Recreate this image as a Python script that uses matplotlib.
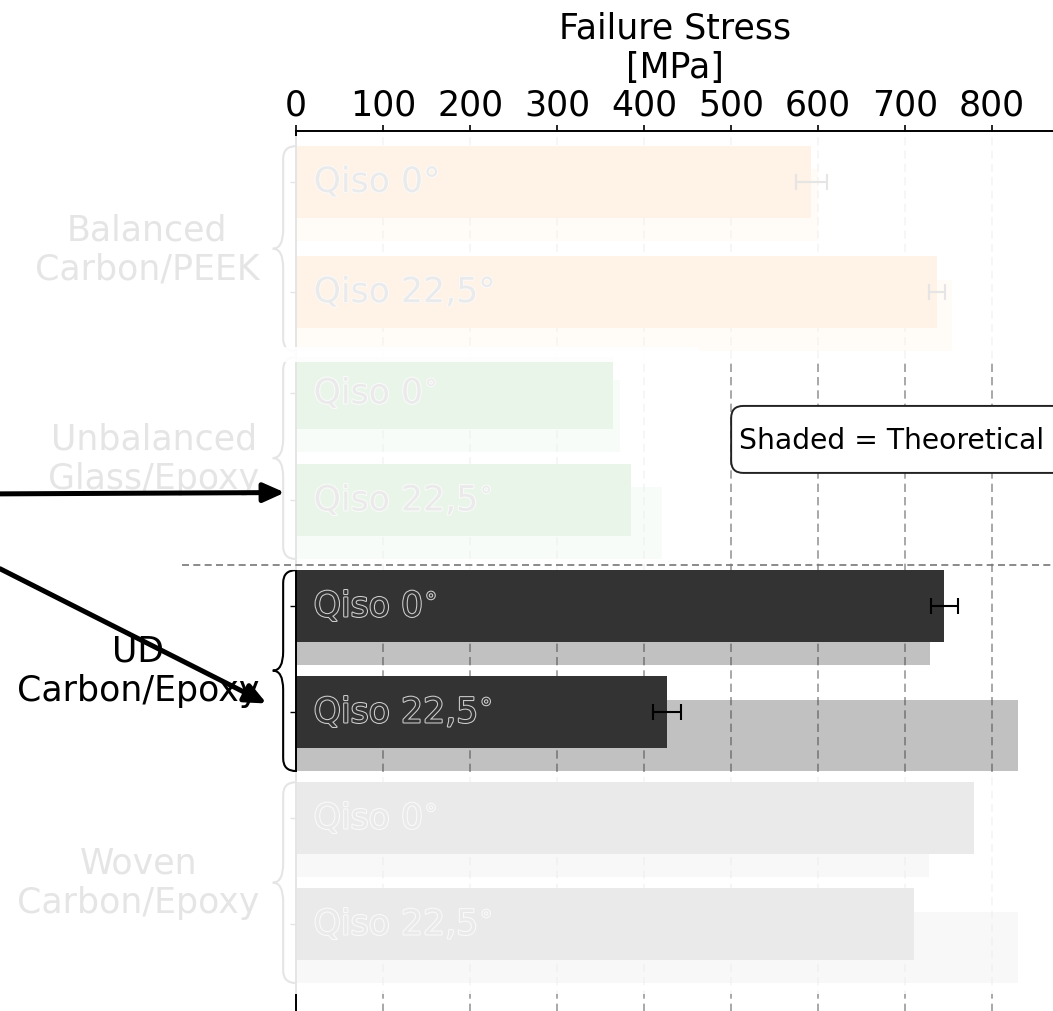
import matplotlib
matplotlib.use("Agg")
import matplotlib.pyplot as plt
import matplotlib.patheffects as pe
from matplotlib.patches import Rectangle, FancyBboxPatch, PathPatch
from matplotlib.path import Path

# ---- data -------------------------------------------------------------
materials = ["Balanced\nCarbon/PEEK", "Unbalanced\nGlass/Epoxy",
             "UD\nCarbon/Epoxy", "Woven\nCarbon/Epoxy"]
layup_labels = [["Qiso 0°", "Qiso 22,5°"],
                ["Qiso 0$^{\\circ}$", "Qiso 22,5$^{\\circ}$"],
                ["Qiso 0$^{\\circ}$", "Qiso 22,5$^{\\circ}$"],
                ["Qiso 0$^{\\circ}$", "Qiso 22,5$^{\\circ}$"]]
exp_stress = [[592, 737], [364, 385], [745, 426], [779, 710]]
exp_error = [[18, 9], [0, 0], [15.5, 16], [0, 0]]
theory_stress = [[600, 754], [372, 421], [729, 830], [728, 830]]
xticks = [0, 100, 200, 300, 400, 500, 600, 700, 800]

# ---- style / layout ---------------------------------------------------
colors = ["tab:orange", "tab:green", "#333333", "#333333"]
highlight = 2
row_y = [[0.0, 1.04], [1.99, 3.0], [4.0, 5.0], [6.0, 7.0]]
bar_h = 0.675
theory_shift = 0.22
fs = 25

fig = plt.figure(figsize=(10.53, 10.12), dpi=100)
ax = fig.add_axes([0.2813, -0.01877, 0.7187, 0.8884])
ax.set_xlim(0, 870)
ax.set_ylim(8.0, -0.481)

ax.set_axisbelow(True)
ax.grid(axis="x", color="#999999", lw=1.2, linestyle=(0, (5, 3)))
ax.grid(axis="y", visible=False)

for g in range(4):
    c = colors[g]
    for k in range(2):
        y = row_y[g][k]
        ax.barh(y + theory_shift, theory_stress[g][k], height=bar_h,
                color=c, alpha=0.3, lw=0, zorder=1)
        err = exp_error[g][k]
        ax.barh(y, exp_stress[g][k], height=bar_h, color=c, lw=0, zorder=2,
                xerr=err if err else None,
                error_kw=dict(ecolor="black", elinewidth=1.5, capsize=6,
                              capthick=1.5, zorder=3))
        ax.text(20, y, layup_labels[g][k], ha="left", va="center",
                fontsize=fs, color="#333333", zorder=4,
                path_effects=[pe.withStroke(linewidth=1.5,
                                            foreground="#d0d0d0")])

    top = row_y[g][0] - bar_h / 2
    bot = row_y[g][1] + theory_shift + bar_h / 2
    mid = (top + bot) / 2

    # group name
    ax.text(-42, mid, materials[g], ha="right", va="center",
            multialignment="center", fontsize=fs, color="black", zorder=4,
            clip_on=False)

    # curly brace
    xr, xm, xt = 0, -15, -27
    re_, rm = 0.12, 0.18
    verts = [(xr, top),
             (xm, top), (xm, top + re_),
             (xm, mid - rm),
             (xm, mid), (xt, mid),
             (xm, mid), (xm, mid + rm),
             (xm, bot - re_),
             (xm, bot), (xr, bot)]
    codes = [Path.MOVETO,
             Path.CURVE3, Path.CURVE3,
             Path.LINETO,
             Path.CURVE3, Path.CURVE3,
             Path.CURVE3, Path.CURVE3,
             Path.LINETO,
             Path.CURVE3, Path.CURVE3]
    ax.add_patch(PathPatch(Path(verts, codes), fill=False, lw=1.5,
                           edgecolor="black", zorder=4, clip_on=False))

# axes styling
ax.xaxis.tick_top()
ax.xaxis.set_label_position("top")
ax.set_xticks(xticks)
ax.set_xticklabels([str(t) for t in xticks])
ax.set_xlabel("Failure Stress\n[MPa]", fontsize=fs, labelpad=8)
ax.tick_params(axis="x", labelsize=fs, length=4.5, width=1.2, pad=2)
ax.set_yticks([y for pair in row_y for y in pair])
ax.set_yticklabels([])
ax.tick_params(axis="y", length=4.5, width=1.0)
for s in ("right", "bottom"):
    ax.spines[s].set_visible(False)
for s in ("left", "top"):
    ax.spines[s].set_linewidth(1.4)
    ax.spines[s].set_color("black")

# fade all groups except the highlighted one
for g in range(4):
    if g == highlight:
        continue
    top = row_y[g][0] - bar_h / 2 - 0.1
    bot = row_y[g][1] + theory_shift + bar_h / 2 + 0.1
    right = 1.1 * max(max(exp_stress[g]), max(theory_stress[g]))
    ax.add_patch(Rectangle((-400, top), right + 400, bot - top,
                           facecolor="white", edgecolor="none", alpha=0.9,
                           zorder=6, clip_on=False))

# separator above the highlighted group
sep_y = ((row_y[1][1] + theory_shift + bar_h / 2)
         + (row_y[2][0] - bar_h / 2)) / 2
ax.plot([-131, 870], [sep_y, sep_y], color="#777777", lw=1.2,
        linestyle=(0, (4.2, 2.6)), zorder=10, clip_on=False)

# pointer arrows
arrow_kw = dict(arrowstyle="-|>,head_length=0.85,head_width=0.38",
                color="black", lw=3.6, mutation_scale=15,
                shrinkA=0, shrinkB=0)
ax.annotate("", xy=(-13, row_y[1][1] - 0.07), xycoords="data",
            xytext=(0.0, 0.511), textcoords="figure fraction",
            arrowprops=arrow_kw, zorder=12, annotation_clip=False)
ax.annotate("", xy=(-34, row_y[2][1] - 0.08), xycoords="data",
            xytext=(0.0, 0.437), textcoords="figure fraction",
            arrowprops=arrow_kw, zorder=12, annotation_clip=False)

# note box
px_per_mpa = 0.8705
px_per_row = 106.0
ax.add_patch(FancyBboxPatch((500, 2.113), 420, 0.632,
                            boxstyle="round,pad=0,rounding_size=14",
                            mutation_aspect=px_per_mpa / px_per_row,
                            facecolor="white", edgecolor="#222222", lw=1.4,
                            zorder=11, clip_on=False))
ax.text(509, 2.43, "Shaded = Theoretical", fontsize=20.3, ha="left",
        va="center", color="black", zorder=12, clip_on=False)

fig.savefig("out.png", dpi=100)
